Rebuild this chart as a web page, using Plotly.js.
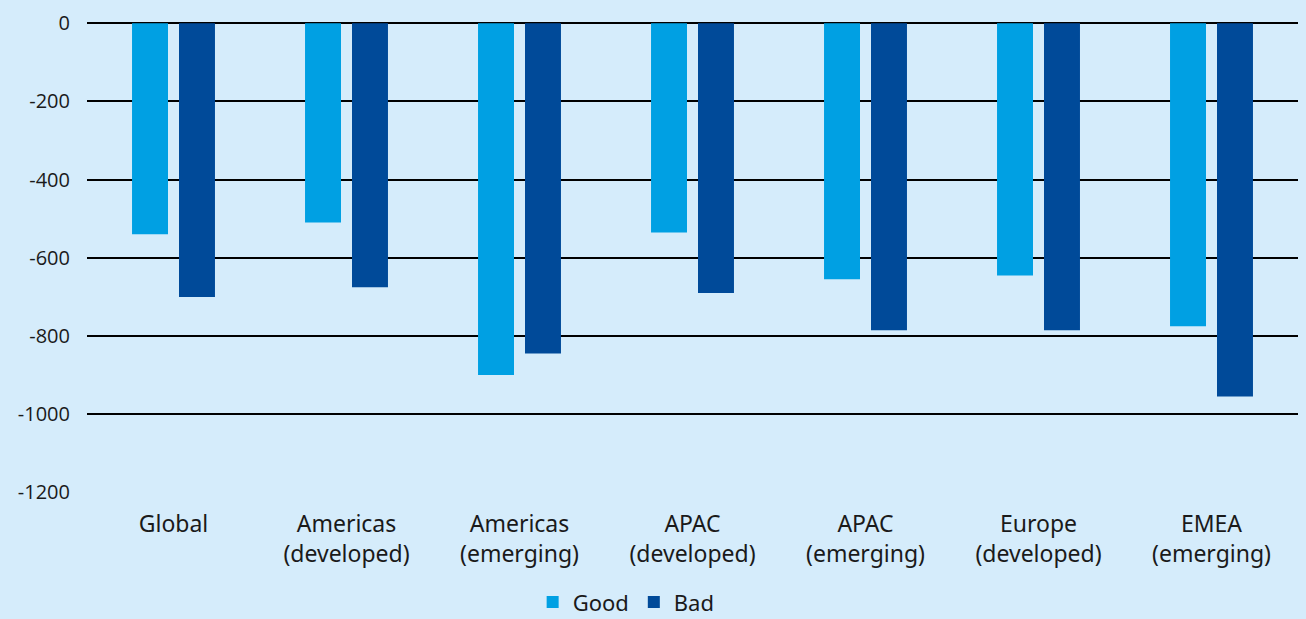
<!DOCTYPE html>
<html>
<head>
<meta charset="utf-8">
<script src="https://cdn.plot.ly/plotly-3.0.1.min.js"></script>
<style>html,body{margin:0;padding:0;background:#d5ecfb;}#chart{width:1306px;height:619px;}</style>
</head>
<body>
<div id="chart"></div>
<script>
var categories = ["Global<br>", "Americas<br>(developed)", "Americas<br>(emerging)", "APAC<br>(developed)", "APAC<br>(emerging)", "Europe<br>(developed)", "EMEA<br>(emerging)"];
var goodValues = [-540, -510, -900, -535, -655, -645, -775];
var badValues = [-700, -675, -845, -690, -785, -785, -955];
var yTickVals = [0, -200, -400, -600, -800, -1000, -1200];
var yTickText = ["0", "-200", "-400", "-600", "-800", "-1000", "-1200"];

var traces = [
  {type: "bar", name: "Good", x: categories, y: goodValues, marker: {color: "#00a0e3"}},
  {type: "bar", name: "Bad", x: categories, y: badValues, marker: {color: "#004a99"}}
];

var layout = {
  width: 1306, height: 619,
  paper_bgcolor: "#d5ecfb", plot_bgcolor: "#d5ecfb",
  margin: {l: 87, r: 8, t: 23, b: 126},
  barmode: "group", bargap: 0.457, bargroupgap: 0.234,
  font: {family: "Noto Sans, Open Sans, sans-serif", color: "#1a1a1a", size: 23},
  xaxis: {showgrid: false, zeroline: false, showline: false, ticks: "", tickfont: {size: 23}, ticklabelstandoff: 15, automargin: false},
  yaxis: {range: [-1201.5, 0.5], tickvals: yTickVals, ticktext: yTickText, showgrid: true, gridcolor: "#000000", gridwidth: 2,
          zeroline: true, zerolinecolor: "#000000", zerolinewidth: 2, showline: false, ticks: "",
          tickfont: {size: 20, family: "Open Sans, Noto Sans, sans-serif"}, ticklabelstandoff: 16, automargin: false},
  legend: {orientation: "h", x: 0.368, xanchor: "left", yref: "container", y: 0.027, yanchor: "middle", font: {size: 22}, itemwidth: 30, tracegroupgap: 0, bgcolor: "rgba(0,0,0,0)"},
  showlegend: true
};
Plotly.newPlot("chart", traces, layout, {displayModeBar: false, staticPlot: true});
</script>
</body>
</html>
